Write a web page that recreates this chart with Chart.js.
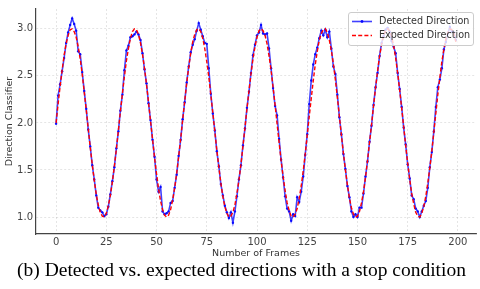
<!DOCTYPE html>
<html>
<head>
<meta charset="utf-8">
<script src="https://cdn.jsdelivr.net/npm/chart.js@4.4.1/dist/chart.umd.min.js"></script>
<style>
  html, body { margin: 0; padding: 0; background: #fff; }
  #wrap { position: relative; width: 480px; height: 289px; overflow: hidden; }
  #posChart { position: absolute; left: 0; top: 0; }
  #caption {
    position: absolute; left: 0; top: 260px; width: 483px;
    text-align: center; white-space: nowrap;
    font-family: 'Liberation Serif', 'Times New Roman', serif;
    font-size: 19.5px; line-height: 20px; color: #000;
  }
</style>
</head>
<body>
<div id="wrap">
  <canvas id="posChart" width="480" height="262" style="width:480px;height:262px"></canvas>
  <div id="caption">(b) Detected vs. expected directions with a stop condition</div>
</div>
<script>
// values, one per frame (0..199)
var DETECTED = [
  1.99,2.29,2.41,2.55,2.69,2.85,2.96,3.04,3.11,3.05,
  2.98,2.76,2.73,2.54,2.34,2.15,1.93,1.75,1.55,1.40,
  1.23,1.10,1.07,1.05,1.01,1.03,1.11,1.24,1.38,1.53,
  1.73,1.91,2.13,2.30,2.56,2.77,2.82,2.91,2.92,2.94,
  2.97,2.94,2.88,2.74,2.57,2.42,2.21,2.03,1.82,1.64,
  1.40,1.27,1.32,1.06,1.03,1.04,1.06,1.15,1.17,1.31,
  1.45,1.65,1.82,2.04,2.22,2.43,2.60,2.75,2.83,2.89,
  2.98,3.06,2.99,2.92,2.85,2.84,2.58,2.31,2.10,1.92,
  1.70,1.54,1.35,1.23,1.12,1.05,0.99,1.05,0.94,1.06,
  1.22,1.40,1.55,1.76,1.94,2.16,2.33,2.53,2.72,2.83,
  2.93,2.96,3.04,2.95,2.94,2.95,2.79,2.58,2.37,2.18,
  2.08,1.83,1.61,1.42,1.22,1.09,1.06,0.96,1.03,1.01,
  1.21,1.16,1.27,1.43,1.66,1.88,2.20,2.45,2.62,2.73,
  2.80,2.90,2.98,2.93,2.99,2.91,2.97,2.79,2.60,2.52,
  2.30,2.06,1.88,1.67,1.51,1.33,1.21,1.06,1.00,1.03,
  1.00,1.10,1.10,1.25,1.43,1.59,1.80,1.97,2.19,2.38,
  2.53,2.71,2.85,2.92,2.99,3.01,2.97,2.87,2.81,2.74,
  2.53,2.36,2.17,1.95,1.77,1.56,1.41,1.23,1.19,1.09,
  1.06,1.00,1.06,1.12,1.17,1.31,1.53,1.69,1.91,2.17,
  2.38,2.46,2.58,2.78,2.86,2.95,3.02,2.97,2.96,2.88
];

var EXPECTED = [
  2.00,2.20,2.39,2.56,2.72,2.84,2.93,2.99,3.00,2.97,
  2.91,2.81,2.68,2.52,2.33,2.14,1.94,1.74,1.56,1.39,
  1.24,1.13,1.05,1.01,1.00,1.04,1.12,1.23,1.37,1.54,
  1.72,1.92,2.12,2.31,2.49,2.66,2.79,2.90,2.97,3.00,
  2.99,2.94,2.85,2.73,2.58,2.41,2.22,2.02,1.83,1.63,
  1.46,1.30,1.17,1.08,1.02,1.00,1.02,1.08,1.18,1.31,
  1.46,1.64,1.83,2.03,2.23,2.42,2.59,2.74,2.86,2.94,
  2.99,3.00,2.97,2.90,2.79,2.65,2.49,2.30,2.11,1.91,
  1.71,1.53,1.36,1.22,1.11,1.04,1.00,1.01,1.05,1.13,
  1.25,1.39,1.56,1.75,1.95,2.15,2.34,2.52,2.68,2.81,
  2.91,2.98,3.00,2.98,2.93,2.84,2.71,2.56,2.38,2.19,
  1.99,1.79,1.60,1.43,1.28,1.15,1.07,1.01,1.00,1.03,
  1.09,1.20,1.33,1.49,1.67,1.87,2.07,2.26,2.45,2.62,
  2.76,2.88,2.95,2.99,3.00,2.96,2.88,2.77,2.63,2.46,
  2.27,2.07,1.87,1.68,1.50,1.34,1.20,1.10,1.03,1.00,
  1.01,1.06,1.15,1.27,1.42,1.60,1.79,1.98,2.18,2.37,
  2.55,2.71,2.83,2.93,2.98,3.00,2.98,2.92,2.82,2.69,
  2.53,2.35,2.16,1.96,1.76,1.57,1.40,1.25,1.14,1.05,
  1.01,1.00,1.04,1.11,1.22,1.36,1.52,1.70,1.90,2.10,
  2.30,2.48,2.65,2.78,2.89,2.96,3.00,2.99,2.95,2.86
];

var X_TICKS = [0, 25, 50, 75, 100, 125, 150, 175, 200];
var Y_TICKS = [1.0, 1.5, 2.0, 2.5, 3.0];
var SERIES_NAMES = ['Detected Direction', 'Expected Direction'];

var BLUE = 'rgba(0,0,255,0.75)';
var RED = '#ff0000';
var TEXT = '#333';

function toPoints(arr) {
  return arr.map(function(v, i) { return {x: i, y: v}; });
}

// legend drawn on top of the lines, like the matplotlib one
var legendBox = {
  id: 'legendBox',
  afterDraw: function(chart) {
    var ctx = chart.ctx;
    var area = chart.chartArea;
    var w = 125, h = 33;
    var left = area.right - w - 3, top = area.top + 3;
    ctx.save();
    ctx.beginPath();
    ctx.roundRect(left + 0.5, top + 0.5, w, h, 2.5);
    ctx.fillStyle = 'rgba(255,255,255,0.8)';
    ctx.fill();
    ctx.strokeStyle = '#cccccc';
    ctx.lineWidth = 1;
    ctx.stroke();

    var rows = [top + 9.5, top + 23.5];
    var x0 = left + 4, x1 = left + 24;

    ctx.lineWidth = 1.6;
    ctx.strokeStyle = BLUE;
    ctx.beginPath();
    ctx.moveTo(x0, rows[0]);
    ctx.lineTo(x1, rows[0]);
    ctx.stroke();
    ctx.fillStyle = 'rgba(0,0,255,0.9)';
    ctx.beginPath();
    ctx.arc((x0 + x1) / 2, rows[0], 1.4, 0, Math.PI * 2);
    ctx.fill();

    ctx.strokeStyle = RED;
    ctx.setLineDash([4, 2.2]);
    ctx.beginPath();
    ctx.moveTo(x0, rows[1]);
    ctx.lineTo(x1, rows[1]);
    ctx.stroke();
    ctx.setLineDash([]);

    ctx.fillStyle = TEXT;
    ctx.font = '9.6px "DejaVu Sans"';
    ctx.textBaseline = 'middle';
    ctx.textAlign = 'left';
    ctx.fillText(SERIES_NAMES[0], left + 31, rows[0]);
    ctx.fillText(SERIES_NAMES[1], left + 31, rows[1]);
    ctx.restore();
  }
};

Chart.defaults.font.family = '"DejaVu Sans", sans-serif';
Chart.defaults.font.size = 9.5;

new Chart(document.getElementById('posChart'), {
  type: 'line',
  data: {
    datasets: [
      {
        label: SERIES_NAMES[1],
        data: toPoints(EXPECTED),
        borderColor: RED,
        borderWidth: 1.4,
        borderDash: [4, 2.2],
        pointRadius: 0,
        tension: 0,
        order: 0
      },
      {
        label: SERIES_NAMES[0],
        data: toPoints(DETECTED),
        borderColor: BLUE,
        borderWidth: 1.6,
        pointRadius: 1.2,
        pointBorderWidth: 0,
        pointBackgroundColor: 'rgba(0,0,255,0.9)',
        tension: 0,
        order: 1
      }
    ]
  },
  options: {
    responsive: false,
    animation: false,
    layout: { padding: { top: 7, right: 4, left: 0, bottom: 0 } },
    scales: {
      x: {
        type: 'linear',
        min: -10,
        max: 209,
        afterBuildTicks: function(s) { s.ticks = X_TICKS.map(function(v) { return {value: v}; }); },
        afterFit: function(s) { s.height = 28; },
        ticks: { color: '#444', font: { size: 10 }, padding: 2, maxRotation: 0, callback: function(v) { return v; } },
        grid: { color: 'rgba(0,0,0,0.13)', lineWidth: 0.8, drawTicks: false },
        border: { display: true, color: '#444', width: 1.2, dash: [2, 2] },
        title: { display: true, text: 'Number of Frames', color: TEXT, padding: { top: 0, bottom: 2.3 } }
      },
      y: {
        min: 0.82,
        max: 3.21,
        afterBuildTicks: function(s) { s.ticks = Y_TICKS.map(function(v) { return {value: v}; }); },
        afterFit: function(s) { s.width = 36; },
        ticks: { color: '#444', font: { size: 10 }, padding: 3, callback: function(v) { return v.toFixed(1); } },
        grid: { color: 'rgba(0,0,0,0.13)', lineWidth: 0.8, drawTicks: false },
        border: { display: true, color: '#444', width: 1.2, dash: [2, 2] },
        title: { display: true, text: 'Direction Classifier', color: TEXT, padding: { top: 3.5, bottom: 0 } }
      }
    },
    plugins: {
      legend: { display: false },
      tooltip: { enabled: false }
    }
  },
  plugins: [legendBox]
});
</script>
</body>
</html>
